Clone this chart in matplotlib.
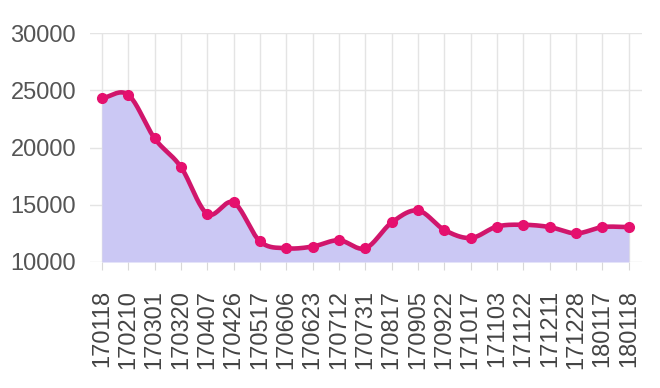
import numpy as np
import matplotlib
matplotlib.use("Agg")
import matplotlib.pyplot as plt

dates = ["170118", "170210", "170301", "170320", "170407", "170426", "170517",
         "170606", "170623", "170712", "170731", "170817", "170905", "170922",
         "171017", "171103", "171122", "171211", "171228", "180117", "180118"]
prices = [24300, 24600, 20800, 18300, 14200, 15200, 11800,
          11200, 11350, 11900, 11200, 13450, 14500, 12800,
          12100, 13100, 13250, 13050, 12500, 13050, 13050]
yticks = [10000, 15000, 20000, 25000, 30000]

plt.rcParams['font.family'] = ['Liberation Sans', 'DejaVu Sans']

fig = plt.figure(figsize=(6.6, 3.88), dpi=100)
ax = fig.add_axes([90/660, 1 - 262/388, (642-90)/660, (262-33)/388])

x = np.arange(len(prices))
y = np.array(prices, dtype=float)

# Catmull-Rom smoothing for rendering the curve
def smooth(xs, ys, n=20, t=0.5):
    px = np.concatenate([[xs[0]], xs, [xs[-1]]])
    py = np.concatenate([[ys[0]], ys, [ys[-1]]])
    ox, oy = [], []
    for i in range(1, len(px) - 2):
        p0, p1, p2, p3 = py[i-1], py[i], py[i+1], py[i+2]
        x1, x2 = px[i], px[i+1]
        m1 = t * (p2 - p0) / 2
        m2 = t * (p3 - p1) / 2
        if i == 1:
            m1 = t * (p2 - p1)
        if i == len(px) - 3:
            m2 = t * (p2 - p1)
        s = np.linspace(0, 1, n, endpoint=False)
        h00 = 2*s**3 - 3*s**2 + 1
        h10 = s**3 - 2*s**2 + s
        h01 = -2*s**3 + 3*s**2
        h11 = s**3 - s**2
        ox.extend(x1 + (x2 - x1) * s)
        oy.extend(h00*p1 + h10*m1*2 + h01*p2 + h11*m2*2)
    ox.append(xs[-1]); oy.append(ys[-1])
    return np.array(ox), np.array(oy)

sx, sy = smooth(x, y)
ax.fill_between(sx, 10000, sy, color='#cbc8f4', zorder=2, linewidth=0)
ax.plot(sx, sy, color='#d0166c', linewidth=3.3, zorder=3, solid_capstyle='round')
ax.plot(x, y, 'o', color='#e5106e', markersize=7, zorder=4)

ax.set_xlim(-0.45, len(prices) - 0.5)
ax.set_ylim(10000, 30000)
ax.set_yticks(yticks)
ax.set_yticklabels([str(v) for v in yticks])
ax.set_xticks(x)
ax.set_xticklabels(dates, rotation=90)

ax.grid(True, color='#e4e4e4', linewidth=1, zorder=0)
ax.set_axisbelow(True)
for s in ax.spines.values():
    s.set_visible(False)
ax.tick_params(axis='y', length=0, pad=10, labelsize=17, labelcolor='#555555')
ax.tick_params(axis='x', length=6, color='#d8d8d8', pad=14, labelsize=17, labelcolor='#444444')

fig.savefig("out.png", dpi=100)
